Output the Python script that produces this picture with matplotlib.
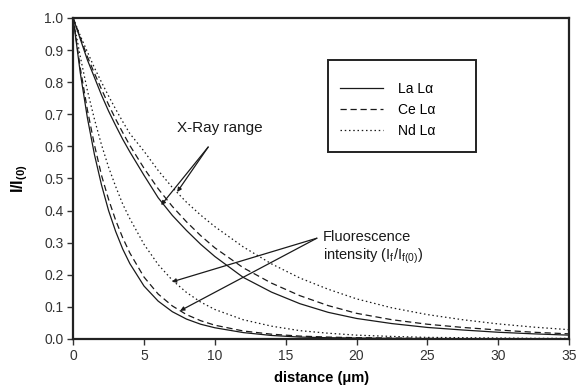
import matplotlib
matplotlib.use("Agg")
import matplotlib.pyplot as plt
from matplotlib.patches import Rectangle

plt.rcParams['font.family'] = ['Liberation Sans', 'DejaVu Sans']
plt.rcParams['mathtext.fontset'] = 'custom'
plt.rcParams['mathtext.rm'] = 'Liberation Sans'
plt.rcParams['mathtext.it'] = 'Liberation Sans'
plt.rcParams['mathtext.bf'] = 'Liberation Sans:bold'

# distance (um) sample points
dist = [0, 0.5, 1, 1.5, 2, 2.5, 3, 3.5, 4, 5, 6, 7, 8, 9, 10, 12, 14, 16, 18, 20,
        22.5, 25, 27.5, 30, 32.5, 35]

# X-ray range curves
la_xray = [1.0, 0.935, 0.87, 0.815, 0.76, 0.71, 0.665, 0.622, 0.583, 0.51, 0.44, 0.385,
           0.338, 0.295, 0.257, 0.192, 0.146, 0.11, 0.083, 0.064, 0.048, 0.036, 0.028,
           0.021, 0.016, 0.012]
ce_xray = [1.0, 0.94, 0.88, 0.828, 0.778, 0.73, 0.685, 0.643, 0.603, 0.532, 0.468, 0.413,
           0.365, 0.322, 0.284, 0.222, 0.174, 0.135, 0.104, 0.08, 0.06, 0.046, 0.036,
           0.028, 0.021, 0.016]
nd_xray = [1.0, 0.945, 0.895, 0.845, 0.8, 0.757, 0.716, 0.677, 0.64, 0.585, 0.525, 0.472,
           0.426, 0.386, 0.35, 0.287, 0.234, 0.19, 0.155, 0.125, 0.097, 0.076, 0.06,
           0.047, 0.037, 0.029]

# fluorescence intensity curves
la_fluor = [1.0, 0.83, 0.69, 0.575, 0.48, 0.4, 0.335, 0.28, 0.235, 0.165, 0.118, 0.085,
            0.062, 0.046, 0.035, 0.02, 0.011, 0.006, 0.004, 0.003, 0.002, 0.001, 0.001,
            0.001, 0.0, 0.0]
ce_fluor = [1.0, 0.845, 0.715, 0.605, 0.51, 0.435, 0.37, 0.315, 0.268, 0.193, 0.14, 0.103,
            0.076, 0.057, 0.043, 0.025, 0.015, 0.009, 0.006, 0.004, 0.003, 0.002, 0.001,
            0.001, 0.001, 0.001]
nd_fluor = [1.0, 0.88, 0.775, 0.685, 0.605, 0.535, 0.475, 0.42, 0.375, 0.295, 0.232, 0.183,
            0.145, 0.115, 0.092, 0.06, 0.04, 0.026, 0.018, 0.012, 0.008, 0.005, 0.004,
            0.003, 0.002, 0.002]

labels = ['La L\u03b1', 'Ce L\u03b1', 'Nd L\u03b1']
x_ticks = [0, 5, 10, 15, 20, 25, 30, 35]
y_ticks = [0.0, 0.1, 0.2, 0.3, 0.4, 0.5, 0.6, 0.7, 0.8, 0.9, 1.0]

ink = '#1a1a1a'
solid = dict(color=ink, lw=0.9, linestyle='-')
dashed = dict(color=ink, lw=0.9, linestyle=(0, (5, 3)))
dotted = dict(color=ink, lw=0.9, linestyle=(0, (1.2, 2.2)))

fig = plt.figure(figsize=(5.76, 3.91), dpi=100)
ax = fig.add_axes([0.127, 0.133, 0.861, 0.821])

l1, = ax.plot(dist, la_xray, **solid)
l2, = ax.plot(dist, ce_xray, **dashed)
l3, = ax.plot(dist, nd_xray, **dotted)
ax.plot(dist, la_fluor, **solid)
ax.plot(dist, ce_fluor, **dashed)
ax.plot(dist, nd_fluor, **dotted)

ax.set_xlim(0, 35)
ax.set_ylim(0, 1.0)
ax.set_xticks(x_ticks)
ax.set_yticks(y_ticks)
ax.set_yticklabels(['%.1f' % v for v in y_ticks])
ax.tick_params(direction='out', length=4, width=1, colors='#333333', labelsize=10, pad=3)
for s in ax.spines.values():
    s.set_linewidth(1.6)
    s.set_color('#222222')

ax.set_xlabel('distance (\u03bcm)', fontsize=10.5, fontweight='bold', labelpad=6)
ax.set_ylabel(r'I/I$_{\mathbf{(0)}}$', fontsize=11.5, fontweight='bold', labelpad=10)

# annotations
arr = dict(arrowstyle='-|>', mutation_scale=6, lw=0.9, color=ink, shrinkA=0, shrinkB=0)
ax.text(10.37, 0.657, 'X-Ray range', fontsize=11, ha='center', va='center', color=ink)
ax.annotate('', xy=(6.21, 0.417), xytext=(9.53, 0.598), arrowprops=arr)
ax.annotate('', xy=(7.34, 0.458), xytext=(9.53, 0.598), arrowprops=arr)

ax.text(17.6, 0.318, 'Fluorescence', fontsize=10.5, ha='left', va='center', color=ink)
ax.text(17.6, 0.257, r'intensity (I$_f$/I$_{f(0)}$)', fontsize=10.5, ha='left',
        va='center', color=ink)
ax.annotate('', xy=(6.97, 0.178), xytext=(17.2, 0.314), arrowprops=arr)
ax.annotate('', xy=(7.55, 0.088), xytext=(17.2, 0.314), arrowprops=arr)

# legend inside a fixed box
ax.add_patch(Rectangle((0.513, 0.583), 0.30, 0.286, transform=ax.transAxes,
                       fill=False, lw=1.4, edgecolor='#222222', zorder=4))
ax.legend([l1, l2, l3], labels, loc='upper left', bbox_to_anchor=(0.529, 0.815),
          frameon=False, fontsize=10, handlelength=3.1, handletextpad=1.1,
          labelspacing=0.52, borderaxespad=0, borderpad=0.3)

fig.savefig('out.png', dpi=100)
